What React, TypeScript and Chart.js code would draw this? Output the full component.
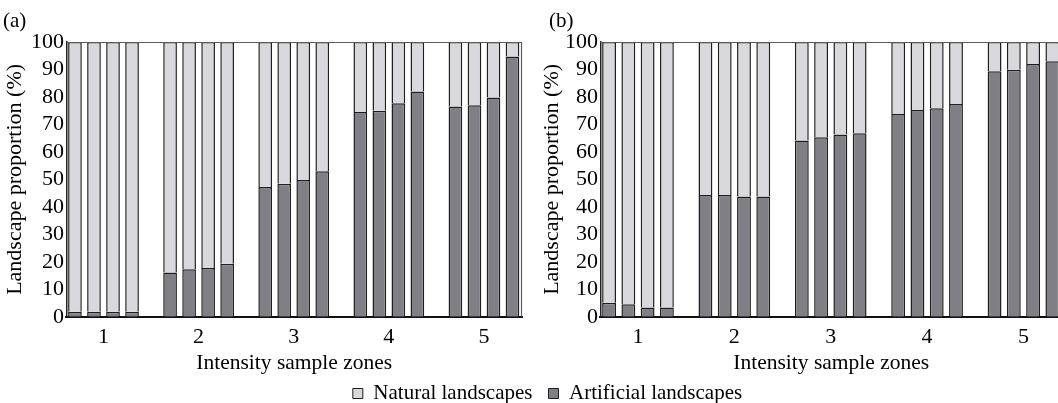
import React, { useEffect, useRef } from "react";
import { Chart, registerables } from "chart.js";

Chart.register(...registerables);

// ---------- data ----------
const zoneLabels = ["1", "2", "3", "4", "5"];
const seriesNames = ["Natural landscapes", "Artificial landscapes"];
const barsPerZone = 4;

// Panel (a)
const artificialA = [
  1.8, 1.8, 1.8, 1.8,
  16.1, 17.3, 17.8, 19.3,
  47.2, 48.4, 49.8, 53.0,
  74.5, 75.0, 77.7, 82.0,
  76.5, 77.0, 79.8, 94.7,
];
const naturalA = [
  98.2, 98.2, 98.2, 98.2,
  83.9, 82.7, 82.2, 80.7,
  52.8, 51.6, 50.2, 47.0,
  25.5, 25.0, 22.3, 18.0,
  23.5, 23.0, 20.2, 5.3,
];

// Panel (b)
const artificialB = [
  5.1, 4.6, 3.4, 3.4,
  44.3, 44.3, 43.8, 43.8,
  64.2, 65.3, 66.3, 66.8,
  73.8, 75.3, 75.9, 77.4,
  89.4, 89.9, 92.0, 93.0,
];
const naturalB = [
  94.9, 95.4, 96.6, 96.6,
  55.7, 55.7, 56.2, 56.2,
  35.8, 34.7, 33.7, 33.2,
  26.2, 24.7, 24.1, 22.6,
  10.6, 10.1, 8.0, 7.0,
];

const yTickStep = 10;
const yMin = 0;
const yMax = 100;

// ---------- styles ----------
const FONT_FAMILY = '"Liberation Serif", "Times New Roman", Times, serif';
const TICK_SIZE = 22;
const YTITLE_SIZE = 22;
const XTITLE_SIZE = 21.5;
const LEGEND_SIZE = 21;
const LABEL_SIZE = 21;
const NATURAL_COLOR = "#d9d8dc";
const ARTIFICIAL_COLOR = "#807f85";
const BAR_BORDER = "#1e1e1e";

Chart.defaults.font.family = FONT_FAMILY;
Chart.defaults.color = "#000";

const slotOf = (i: number) => Math.floor(i / barsPerZone) * (barsPerZone + 1) + (i % barsPerZone);
const toPoints = (vals: number[]) => vals.map((v, i) => ({ x: slotOf(i), y: v }));
const slotCount = zoneLabels.length * (barsPerZone + 1) - 1;

const panelPlugin = {
  id: "panelDecor",
  afterDatasetsDraw(chart: any, _args: any, opts: any) {
    const { ctx, chartArea: a } = chart;
    ctx.save();
    ctx.strokeStyle = opts.frameColor || "#777";
    ctx.lineWidth = 1.2;
    ctx.beginPath();
    ctx.moveTo(a.left, a.top + 0.5);
    ctx.lineTo(a.right - 0.5, a.top + 0.5);
    ctx.lineTo(a.right - 0.5, a.bottom);
    ctx.stroke();
    ctx.restore();
  },
  afterDraw(chart: any, _args: any, opts: any) {
    if (!opts.text) return;
    const { ctx } = chart;
    ctx.save();
    ctx.font = `${LABEL_SIZE}px ${FONT_FAMILY}`;
    ctx.fillStyle = "#000";
    ctx.textAlign = "left";
    ctx.textBaseline = "middle";
    ctx.fillText(opts.text, opts.x, opts.y);
    ctx.restore();
  },
};

type PanelProps = {
  label: string;
  artificial: number[];
  natural: number[];
  left: number;
  width: number;
  height: number;
  labelX: number;
  labelY: number;
  yTitlePad: { top: number; bottom: number };
  yTickPad: number;
};

function Panel({ label, artificial, natural, left, width, height, labelX, labelY, yTitlePad, yTickPad }: PanelProps) {
  const ref = useRef<HTMLCanvasElement | null>(null);
  useEffect(() => {
    if (!ref.current) return;
    const chart = new Chart(ref.current, {
      type: "bar",
      data: {
        datasets: [
          {
            label: seriesNames[1],
            data: toPoints(artificial),
            backgroundColor: ARTIFICIAL_COLOR,
            borderColor: BAR_BORDER,
            borderWidth: 1.5,
            categoryPercentage: 1,
            barPercentage: 0.72,
          },
          {
            label: seriesNames[0],
            data: toPoints(natural),
            backgroundColor: NATURAL_COLOR,
            borderColor: BAR_BORDER,
            borderWidth: 1.5,
            categoryPercentage: 1,
            barPercentage: 0.72,
          },
        ] as any,
      },
      options: {
        animation: false,
        responsive: false,
        events: [],
        layout: { padding: { top: 42, left: 1, right: 8, bottom: 0 } },
        plugins: {
          legend: { display: false },
          tooltip: { enabled: false },
          title: { display: false },
          panelDecor: { text: label, x: labelX, y: labelY, frameColor: "#5a5a5a" },
        } as any,
        scales: {
          x: {
            type: "linear",
            stacked: true,
            min: -0.45,
            max: slotCount - 0.5,
            offset: false,
            grid: { display: false, drawTicks: false, tickLength: 0 },
            border: { display: true, color: "#111", width: 2 },
            afterBuildTicks: (scale: any) => {
              scale.ticks = zoneLabels.map((_, i) => ({
                value: i * (barsPerZone + 1) + (barsPerZone - 1) / 2,
              }));
            },
            ticks: {
              autoSkip: false,
              maxRotation: 0,
              padding: 7,
              color: "#000",
              font: { size: TICK_SIZE },
              callback: (_v: any, i: number) => zoneLabels[i],
            },
            title: {
              display: true,
              text: "Intensity sample zones",
              color: "#000",
              font: { size: XTITLE_SIZE },
              padding: { top: -7, bottom: 4 },
            },
          },
          y: {
            stacked: true,
            min: yMin,
            max: yMax,
            grid: { display: false, drawTicks: false, tickLength: 0 },
            border: { display: true, color: "#222", width: 1.5 },
            ticks: {
              stepSize: yTickStep,
              autoSkip: false,
              padding: yTickPad,
              color: "#000",
              font: { size: TICK_SIZE },
            },
            title: {
              display: true,
              text: "Landscape proportion (%)",
              color: "#000",
              font: { size: YTITLE_SIZE },
              padding: yTitlePad,
            },
          },
        } as any,
      },
      plugins: [panelPlugin],
    });
    return () => chart.destroy();
  }, []);
  return (
    <canvas
      ref={ref}
      width={width}
      height={height}
      style={{ position: "absolute", left, top: 0, width, height, display: "block" }}
    />
  );
}

function Legend({ left, top, width, height }: { left: number; top: number; width: number; height: number }) {
  const ref = useRef<HTMLCanvasElement | null>(null);
  useEffect(() => {
    if (!ref.current) return;
    const chart = new Chart(ref.current, {
      type: "bar",
      data: {
        labels: [],
        datasets: [
          { label: seriesNames[0], data: [], backgroundColor: NATURAL_COLOR, borderColor: BAR_BORDER, borderWidth: 1 },
          { label: seriesNames[1], data: [], backgroundColor: ARTIFICIAL_COLOR, borderColor: BAR_BORDER, borderWidth: 1 },
        ],
      },
      options: {
        animation: false,
        responsive: false,
        events: [],
        plugins: {
          legend: {
            display: true,
            position: "top",
            labels: {
              boxWidth: 10,
              boxHeight: 10,
              padding: 16,
              color: "#000",
              font: { size: LEGEND_SIZE },
            },
          },
          tooltip: { enabled: false },
        },
        scales: { x: { display: false }, y: { display: false } },
      },
    });
    return () => chart.destroy();
  }, []);
  return (
    <canvas
      ref={ref}
      width={width}
      height={height}
      style={{ position: "absolute", left, top, width, height, display: "block" }}
    />
  );
}

export default function App() {
  return (
    <div
      style={{
        position: "absolute",
        left: 0,
        top: 0,
        width: 1058,
        height: 403,
        overflow: "hidden",
        background: "#fff",
      }}
    >
      <Panel
        label="(a)"
        artificial={artificialA}
        natural={naturalA}
        left={0}
        width={530}
        height={380}
        labelX={3}
        labelY={21}
        yTitlePad={{ top: 1, bottom: 0 }}
        yTickPad={2.5}
      />
      <Panel
        label="(b)"
        artificial={artificialB}
        natural={naturalB}
        left={535}
        width={535}
        height={380}
        labelX={14}
        labelY={21}
        yTitlePad={{ top: 3, bottom: -3 }}
        yTickPad={2.5}
      />
      <Legend left={37} top={367} width={1021} height={140} />
    </div>
  );
}
